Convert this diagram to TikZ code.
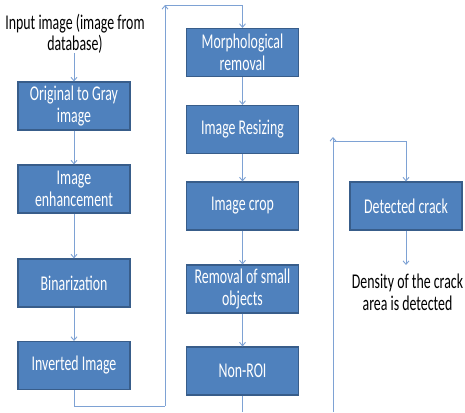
\documentclass[tikz,border=0pt]{standalone}
\usepackage{fontspec}
\setmainfont[FakeStretch=0.66]{Carlito}
\usetikzlibrary{arrows.meta}
\definecolor{boxfill}{HTML}{4F81BD}
\definecolor{boxline}{HTML}{385D8A}
\definecolor{linkcol}{HTML}{7EA2D4}
\tikzset{
  stage/.style={draw=boxline, line width=1.1pt, fill=boxfill, text=white,
    minimum width=112pt, minimum height=48pt, inner sep=0pt,
    align=center, font=\fontsize{21}{21.5}\selectfont},
  caption/.style={text=black, inner sep=0pt, align=center,
    font=\fontsize{21}{21.5}\selectfont},
  link/.style={draw=linkcol, line width=0.9pt},
  flow/.style={link, -{Straight Barb[length=3.5pt,width=6pt]}}
}
\begin{document}
\begin{tikzpicture}[x=1pt,y=-1pt]
  \useasboundingbox (0,0) rectangle (465,412);

  % left column
  \node[caption] (input) at (75,34) {Input image (image from\\database)};
  \node[stage] (gray) at (74,106) {Original to Gray\\image};
  \node[stage] (enh)  at (74,189) {Image\\enhancement};
  \node[stage] (bin)  at (74,283) {Binarization};
  \node[stage] (inv)  at (74,365.5) {Inverted Image};

  % middle column
  \node[stage] (morph)  at (242.5,52.5) {Morphological\\removal};
  \node[stage] (resize) at (242.5,129.5) {Image Resizing};
  \node[stage] (crop)   at (242.5,206) {Image crop};
  \node[stage] (small)  at (242.5,289) {Removal of small\\objects};
  \node[stage] (nonroi) at (242.5,371) {Non-ROI};

  % right column
  \node[stage] (crack) at (406,206) {Detected crack};
  \node[caption] (density) at (407.5,292.5) {Density of the crack\\area is detected};

  % connector end points
  \coordinate (lowA)  at (165,406);
  \coordinate (topA)  at (165,5);
  \coordinate (endB)  at (242.5,412);
  \coordinate (lowC)  at (333,412);
  \coordinate (topC)  at (333,137);
  \coordinate (elbC)  at (333,141);
  \coordinate (densT) at (406,265);
  \coordinate (inT)   at (74,53);

  % connectors
  \draw[flow] (inT) -- (gray.north);
  \draw[flow] (gray) -- (enh);
  \draw[flow] (enh) -- (bin);
  \draw[flow] (bin) -- (inv);
  \draw[link] (inv.south) |- (lowA);
  \draw[flow] (lowA) -- (topA);
  \draw[flow] (topA) -| (morph.north);

  \draw[flow] (morph) -- (resize);
  \draw[flow] (resize) -- (crop);
  \draw[flow] (crop) -- (small);
  \draw[flow] (small) -- (nonroi);
  \draw[link] (nonroi.south) -- (endB);

  \draw[flow] (lowC) -- (topC);
  \draw[flow] (elbC) -| (crack.north);
  \draw[flow] (crack.south) -- (densT);
\end{tikzpicture}
\end{document}
